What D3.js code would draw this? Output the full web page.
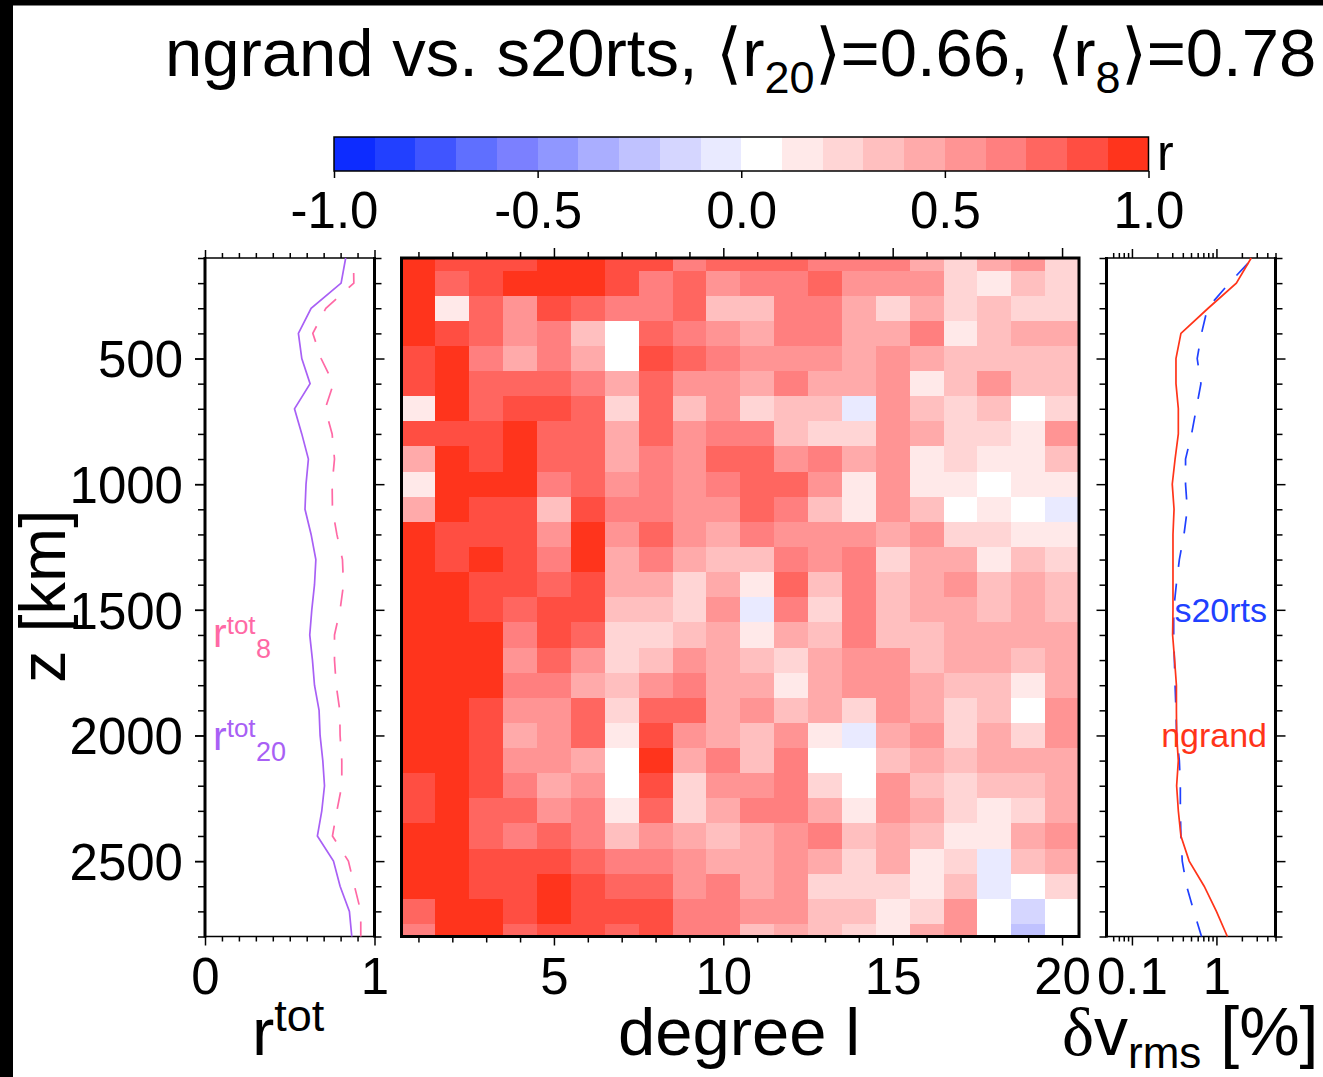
<!DOCTYPE html>
<html>
<head>
<meta charset="utf-8">
<script src="https://cdn.jsdelivr.net/npm/d3@7"></script>
<style>
  html, body { margin: 0; padding: 0; background: #fff; }
  svg { display: block; }
  text { font-family: "Liberation Sans", Arial, sans-serif; fill: #000; }
  .tick line { stroke: #000; stroke-width: 1.5; }
  .tick text { font-size: 51px; fill: #000; }
</style>
</head>
<body>
<svg id="chart" width="1323" height="1077"></svg>
<script>
// Spherical harmonic degree and depth of the correlation cells
const degrees = d3.range(1, 21);
const depths = d3.range(100, 2900, 100);

// Correlation r, one row per depth, one column per degree
const corrRows = [
  [.95,.85,.85,.85,.95,.95,.85,.85,.65,.75,.75,.75,.65,.65,.65,.45,.25,.45,.55,.25],
  [.95,.75,.85,.95,.95,.95,.85,.65,.75,.55,.65,.65,.75,.55,.55,.55,.25,.15,.35,.25],
  [.95,.15,.75,.55,.85,.75,.65,.65,.75,.35,.35,.65,.65,.45,.25,.45,.25,.35,.25,.25],
  [.95,.85,.75,.55,.65,.35,.05,.75,.65,.55,.45,.65,.65,.45,.45,.65,.15,.35,.45,.45],
  [.85,.95,.65,.45,.65,.45,.05,.85,.75,.65,.55,.55,.55,.45,.55,.45,.35,.35,.35,.35],
  [.85,.95,.75,.75,.75,.65,.45,.75,.55,.55,.45,.65,.45,.45,.55,.15,.35,.55,.35,.35],
  [.15,.95,.75,.85,.85,.75,.25,.75,.35,.55,.25,.35,.35,-.05,.55,.35,.25,.35,.05,.25],
  [.85,.85,.85,.95,.75,.75,.45,.75,.55,.65,.65,.35,.25,.25,.55,.45,.25,.25,.15,.55],
  [.45,.95,.85,.95,.75,.75,.45,.65,.55,.75,.75,.55,.65,.45,.55,.15,.25,.15,.15,.35],
  [.15,.95,.95,.95,.65,.75,.55,.65,.55,.65,.75,.75,.55,.15,.55,.15,.15,.05,.15,.15],
  [.45,.95,.85,.85,.35,.85,.65,.65,.55,.55,.75,.65,.35,.15,.55,.35,.05,.15,.05,-.05],
  [.95,.85,.85,.85,.55,.95,.55,.75,.55,.45,.65,.55,.55,.55,.45,.55,.25,.25,.15,.15],
  [.95,.85,.95,.85,.65,.95,.45,.65,.45,.35,.35,.65,.55,.65,.25,.45,.45,.15,.35,.25],
  [.95,.95,.85,.85,.75,.85,.45,.45,.25,.45,.15,.75,.35,.65,.35,.45,.55,.35,.45,.35],
  [.95,.95,.85,.75,.85,.85,.35,.35,.25,.55,-.05,.65,.25,.65,.35,.45,.45,.35,.45,.35],
  [.95,.95,.95,.65,.85,.75,.25,.25,.35,.45,.15,.45,.35,.65,.35,.35,.45,.45,.45,.45],
  [.95,.95,.95,.55,.75,.55,.25,.35,.55,.45,.35,.25,.45,.55,.55,.35,.45,.45,.35,.45],
  [.95,.95,.95,.65,.65,.45,.35,.55,.65,.45,.45,.15,.45,.55,.55,.45,.35,.35,.15,.45],
  [.95,.95,.85,.55,.55,.75,.25,.75,.75,.45,.55,.35,.45,.25,.55,.45,.25,.35,.05,.55],
  [.95,.95,.85,.45,.55,.75,.15,.85,.55,.45,.35,.55,.15,-.05,.45,.55,.25,.45,.25,.55],
  [.95,.95,.85,.55,.55,.45,.05,.95,.45,.65,.35,.65,.05,.05,.35,.45,.35,.45,.45,.45],
  [.85,.95,.85,.65,.45,.55,.05,.85,.25,.55,.55,.65,.25,.05,.55,.35,.25,.35,.35,.45],
  [.85,.95,.75,.75,.55,.65,.15,.75,.25,.45,.65,.65,.45,.15,.55,.45,.25,.15,.25,.45],
  [.95,.95,.75,.65,.75,.65,.35,.55,.45,.35,.45,.55,.65,.35,.45,.35,.15,.15,.45,.55],
  [.95,.95,.85,.85,.85,.75,.65,.65,.55,.45,.45,.55,.45,.25,.45,.15,.25,-.05,.35,.45],
  [.95,.95,.85,.85,.95,.85,.75,.75,.55,.65,.45,.55,.25,.25,.25,.15,.35,-.05,.05,.25],
  [.75,.95,.95,.85,.95,.85,.85,.85,.65,.65,.55,.55,.35,.35,.15,.25,.55,.05,-.15,.05],
  [.65,.95,.95,.75,.85,.85,.75,.85,.65,.65,.35,.45,.35,.25,.15,.45,.55,.05,-.25,.05]
];

// Total correlation profiles, same depths
const rTot20 = [.83,.803,.626,.551,.571,.62,.528,.571,.61,.596,.59,.626,.654,.646,
  .63,.618,.634,.646,.673,.679,.695,.705,.689,.663,.758,.797,.852,.866];
const rTot8 = [.876,.878,.713,.636,.685,.758,.709,.75,.764,.75,.752,.778,.811,.817,
  .797,.764,.764,.774,.795,.797,.807,.807,.778,.752,.846,.882,.919,.919];

// RMS velocity profiles in percent
const rmsNgrand = [2.58,1.72,.798,.38,.332,.332,.354,.354,.324,.30,.315,.306,.306,.306,
  .306,.303,.32,.336,.336,.338,.354,.338,.354,.38,.476,.716,1.0,1.346];
const rmsS20rts = [2.7,1.42,.783,.666,.592,.655,.577,.508,.431,.431,.452,.413,.364,.335,
  .312,.312,.318,.324,.332,.338,.364,.374,.374,.38,.394,.444,.541,.666];

const colorBins = ["#0d2cff","#2240ff","#4055ff","#5f6fff","#7b80ff","#9097ff","#aaaeff","#c0c2ff","#d5d6ff","#e9eaff",
  "#ffffff","#ffe9e9","#ffd5d5","#ffbfbf","#ffaaaa","#ff9494","#ff7f7f","#ff6660","#ff4e42","#ff341c"];
const barTicks = [-1, -0.5, 0, 0.5, 1];
const depthTicks = [500, 1000, 1500, 2000, 2500];

const PINK = "#ff69a5", PURPLE = "#a860f5", BLUE = "#2040ff", RED = "#ff3419";

const svg = d3.select("#chart");

// black edges of the original screenshot
svg.append("rect").attr("width", 1323).attr("height", 5.5).attr("fill", "#000");
svg.append("rect").attr("width", 13).attr("height", 1077).attr("fill", "#000");

const top_ = 258, bottom = 936.5;
const y = d3.scaleLinear().domain([100, 2800]).range([top_, bottom]).clamp(true);
const xMain = d3.scaleLinear().domain([0.5, 20.5]).range([401.5, 1079]);
const xTot = d3.scaleLinear().domain([0, 1]).range([205, 374.5]);
const xRms = d3.scaleLog().domain([0.05, 5]).range([1106.5, 1275.5]);
const color = d3.scaleQuantize().domain([-1, 1]).range(colorBins);
const xBar = d3.scaleLinear().domain([-1, 1]).range([334, 1148.5]);

// adds one set of ticks, labels only when a format is passed
function addTicks(axisFn, scale, values, size, pos, format) {
  const g = svg.append("g")
    .attr("transform", pos)
    .call(axisFn(scale).tickValues(values).tickSize(size).tickPadding(12)
      .tickFormat(format || (() => "")));
  g.select(".domain").remove();
  return g;
}

// Heat map cells
const cells = [];
depths.forEach((z, i) => degrees.forEach((l, j) => cells.push({ z: z, l: l, r: corrRows[i][j] })));
svg.append("g").selectAll("rect").data(cells).enter().append("rect")
  .attr("x", d => xMain(d.l - 0.5))
  .attr("width", d => xMain(d.l + 0.5) - xMain(d.l - 0.5))
  .attr("y", d => y(d.z - 50))
  .attr("height", d => y(d.z + 50) - y(d.z - 50))
  .attr("fill", d => color(d.r))
  .attr("shape-rendering", "crispEdges");

// Main panel frame and ticks
svg.append("rect").attr("x", xMain.range()[0]).attr("y", top_)
  .attr("width", xMain.range()[1] - xMain.range()[0]).attr("height", bottom - top_)
  .attr("fill", "none").attr("stroke", "#000").attr("stroke-width", 3);
const minorDeg = degrees.filter(d => d % 5 != 0);
const majorDeg = degrees.filter(d => d % 5 == 0);
addTicks(d3.axisTop, xMain, minorDeg, 5, `translate(0,${top_ - 1})`);
addTicks(d3.axisTop, xMain, majorDeg, 9, `translate(0,${top_ - 1})`);
addTicks(d3.axisBottom, xMain, minorDeg, 5, `translate(0,${bottom + 1})`);
addTicks(d3.axisBottom, xMain, majorDeg, 9, `translate(0,${bottom})`, d3.format("d"));

// Frames of the side panels, thick sides and thin top and bottom
function sideFrame(x) {
  const [x0, x1] = x.range();
  [x0, x1].forEach(v => svg.append("line").attr("x1", v).attr("x2", v).attr("y1", top_ - 1).attr("y2", bottom + 1)
    .attr("stroke", "#000").attr("stroke-width", 3));
  [top_, bottom].forEach(v => svg.append("line").attr("x1", x0).attr("x2", x1).attr("y1", v).attr("y2", v)
    .attr("stroke", "#000").attr("stroke-width", 1.5));
  const minorZ = depths.filter(z => z % 500 != 0);
  [[d3.axisLeft, x0], [d3.axisRight, x1]].forEach(([ax, v]) => {
    addTicks(ax, y, minorZ, 7, `translate(${v},0)`);
    addTicks(ax, y, depthTicks, 10, `translate(${v},0)`);
  });
}
sideFrame(xTot);
sideFrame(xRms);

// depth labels only on the left panel
addTicks(d3.axisLeft, y, depthTicks, 10, `translate(${xTot.range()[0]},0)`, d3.format("d"))
  .selectAll("text").attr("dy", "0.36em");

// Left panel ticks
const totMinor = d3.range(1, 10).map(d => d / 10);
addTicks(d3.axisTop, xTot, totMinor, 5, `translate(0,${top_})`);
addTicks(d3.axisTop, xTot, [0, 1], 8, `translate(0,${top_})`);
addTicks(d3.axisBottom, xTot, totMinor, 5, `translate(0,${bottom})`);
addTicks(d3.axisBottom, xTot, [0, 1], 9, `translate(0,${bottom})`, d3.format("d"));

// Right panel ticks
const rmsMinor = [.06,.07,.08,.09,.2,.3,.4,.5,.6,.7,.8,.9,2,3,4,5];
addTicks(d3.axisTop, xRms, rmsMinor, 5, `translate(0,${top_})`);
addTicks(d3.axisTop, xRms, [.1, 1], 9, `translate(0,${top_})`);
addTicks(d3.axisBottom, xRms, rmsMinor, 5, `translate(0,${bottom})`);
addTicks(d3.axisBottom, xRms, [.1, 1], 9, `translate(0,${bottom})`, d3.format("~g"));

// Profile lines
function profile(values, x, col, width, dash, offset) {
  const line = d3.line().x(d => x(d[1])).y(d => y(d[0]));
  const p = svg.append("path").datum(depths.map((z, i) => [z, values[i]]))
    .attr("d", line).attr("fill", "none").attr("stroke", col).attr("stroke-width", width);
  if (dash) p.attr("stroke-dasharray", dash).attr("stroke-dashoffset", offset);
}
profile(rTot8, xTot, PINK, 1.7, "17 17", 19);
profile(rTot20, xTot, PURPLE, 1.7);
profile(rmsS20rts, xRms, BLUE, 1.7, "17 17", 27);
profile(rmsNgrand, xRms, RED, 1.7);

// Colour bar
const barTop = 137, barBottom = 171;
svg.append("g").selectAll("rect").data(colorBins).enter().append("rect")
  .attr("x", (d, i) => xBar(-1 + i * 0.1))
  .attr("width", xBar(0.1) - xBar(0))
  .attr("y", barTop)
  .attr("height", barBottom - barTop)
  .attr("fill", d => d)
  .attr("shape-rendering", "crispEdges");
svg.append("rect").attr("x", 334).attr("y", barTop).attr("width", 814.5).attr("height", barBottom - barTop)
  .attr("fill", "none").attr("stroke", "#000").attr("stroke-width", 1.5);
addTicks(d3.axisBottom, xBar, barTicks, 7, `translate(0,${barBottom})`, d => d.toFixed(1))
  .selectAll("text").attr("y", 57).attr("dy", 0);
svg.append("text").attr("x", 1157).attr("y", 170).attr("font-size", 50).text("r");

// Title and axis titles
const title = svg.append("text").attr("x", 165).attr("y", 76).attr("font-size", 67);
title.append("tspan").text("ngrand vs. s20rts, \u27e8r");
title.append("tspan").attr("font-size", 45).attr("dy", 17).text("20");
title.append("tspan").attr("dy", -17).text("\u27e9=0.66, \u27e8r");
title.append("tspan").attr("font-size", 45).attr("dy", 17).text("8");
title.append("tspan").attr("dy", -17).text("\u27e9=0.78");

svg.append("text").attr("x", 739).attr("y", 1055).attr("text-anchor", "middle").attr("font-size", 67).text("degree l");

svg.append("text").attr("transform", "translate(65,683) rotate(-90)").attr("font-size", 65).text("z [km]");

const rLabel = svg.append("text").attr("x", 252).attr("y", 1055).attr("font-size", 67);
rLabel.append("tspan").text("r");
rLabel.append("tspan").attr("font-size", 45).attr("dy", -24).text("tot");

const dvLabel = svg.append("text").attr("x", 1062).attr("y", 1055).attr("font-size", 68);
dvLabel.append("tspan").style("font-family", "'Liberation Serif'").text("\u03b4");
dvLabel.append("tspan").text("v");
dvLabel.append("tspan").attr("font-size", 44).attr("dy", 12.5).text("rms");
dvLabel.append("tspan").attr("dy", -12.5).text(" [%]");

// Labels inside side panels
function totLabel(yPos, col, sub) {
  const t = svg.append("text").attr("x", 213).attr("y", yPos).attr("font-size", 41).style("fill", col);
  t.append("tspan").text("r");
  t.append("tspan").attr("font-size", 26).attr("dy", -13).style("fill", col).text("tot");
  t.append("tspan").attr("font-size", 27).attr("x", 256).attr("dy", 24).style("fill", col).text(sub);
}
totLabel(647, PINK, "8");
totLabel(750, PURPLE, "20");

svg.append("text").attr("x", 1267).attr("y", 622).attr("text-anchor", "end").attr("font-size", 34)
  .style("fill", BLUE).text("s20rts");
svg.append("text").attr("x", 1267).attr("y", 747).attr("text-anchor", "end").attr("font-size", 34)
  .style("fill", RED).text("ngrand");
</script>
</body>
</html>
